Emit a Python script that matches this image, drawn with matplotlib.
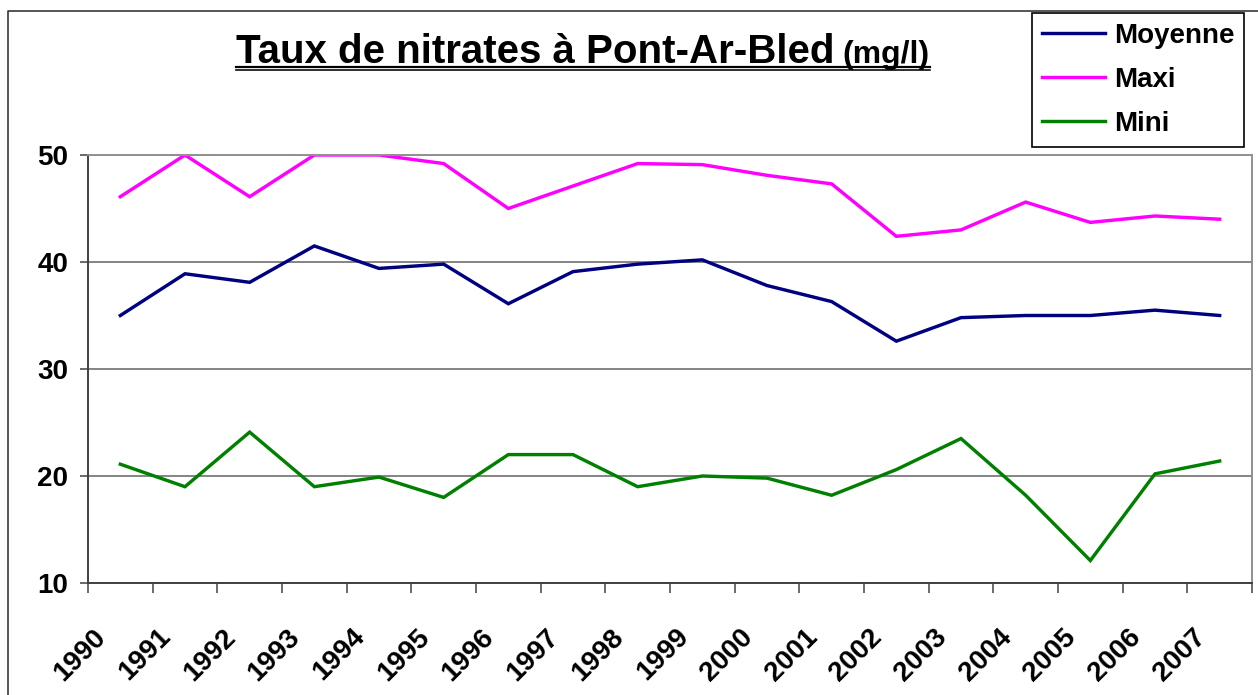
#!/usr/bin/env python3
import matplotlib
matplotlib.use("Agg")
import matplotlib.pyplot as plt
from matplotlib.lines import Line2D
from matplotlib.transforms import ScaledTranslation

years = [str(y) for y in range(1990, 2008)]
moyenne = [35.0, 38.9, 38.1, 41.5, 39.4, 39.8, 36.1, 39.1, 39.8, 40.2,
           37.8, 36.3, 32.6, 34.8, 35.0, 35.0, 35.5, 35.0]
maxi = [46.1, 50.0, 46.1, 50.0, 50.0, 49.2, 45.0, 47.1, 49.2, 49.1,
        48.1, 47.3, 42.4, 43.0, 45.6, 43.7, 44.3, 44.0]
mini = [21.1, 19.0, 24.1, 19.0, 19.9, 18.0, 22.0, 22.0, 19.0, 20.0,
        19.8, 18.2, 20.6, 23.5, 18.2, 12.1, 20.2, 21.4]
y_ticks = [10, 20, 30, 40, 50]

W, H = 1258, 695
DPI = 100


def px(v):
    # pixels -> points
    return v * 72.0 / DPI


plt.rcParams['font.family'] = ['Liberation Sans', 'DejaVu Sans']

fig = plt.figure(figsize=(W / DPI, H / DPI), dpi=DPI)

# plot area in pixels: x 88..1252, y 155..583
left, right, top, bottom = 88, 1252, 155, 583
ax = fig.add_axes([left / W, 1 - bottom / H, (right - left) / W, (bottom - top) / H])

x = list(range(len(years)))
lw = px(3.4)
ax.plot(x, moyenne, color='#000080', lw=lw, label='Moyenne', solid_joinstyle='miter')
ax.plot(x, maxi, color='#FF00FF', lw=lw, label='Maxi', solid_joinstyle='miter')
ax.plot(x, mini, color='#008000', lw=lw, label='Mini', solid_joinstyle='miter')

ax.set_xlim(-0.5, len(years) - 0.5)
ax.set_ylim(10, 50)
ax.set_yticks(y_ticks)
ax.set_yticklabels([str(v) for v in y_ticks], fontsize=20, fontweight='bold')
ax.yaxis.grid(True, color='#707070', lw=1.2)
ax.set_axisbelow(True)

# category boundaries as ticks, labels placed separately
ax.set_xticks([i - 0.5 for i in range(len(years) + 1)])
ax.set_xticklabels([])
ax.tick_params(axis='x', direction='out', length=px(10), width=1.2, color='#505050')
ax.tick_params(axis='y', direction='out', length=px(8), width=1.2, color='#505050', pad=px(12))

off = ScaledTranslation(-18 / DPI, -50 / DPI, fig.dpi_scale_trans)
for i, yr in enumerate(years):
    ax.text(i, 0, yr, transform=ax.get_xaxis_transform() + off, rotation=45,
            rotation_mode='anchor', ha='right', va='center',
            fontsize=20, fontweight='bold')

for s in ['left', 'bottom']:
    ax.spines[s].set_color('#404040')
    ax.spines[s].set_linewidth(1.4)
for s in ['top', 'right']:
    ax.spines[s].set_color('#909090')
    ax.spines[s].set_linewidth(1.4)

# legend box: x 1032..1244, y 13..145
leg = ax.legend(loc='upper right', bbox_to_anchor=(1244 / W, 1 - 13 / H),
                bbox_transform=fig.transFigure, borderaxespad=0,
                fancybox=False, edgecolor='black', framealpha=1,
                prop={'size': 20, 'weight': 'bold'}, handlelength=2.3,
                handletextpad=0.3, labelspacing=0.65, borderpad=0.35)
leg.get_frame().set_linewidth(1.2)

# title with smaller unit, double underline
renderer = fig.canvas.get_renderer()
t1 = fig.text(236 / W, 1 - 63 / H, "Taux de nitrates à Pont-Ar-Bled",
              fontsize=29, fontweight='bold', va='baseline')
bb = t1.get_window_extent(renderer)
t2 = fig.text((bb.x1 + 8) / W, 1 - 63 / H, "(mg/l)",
              fontsize=23, fontweight='bold', va='baseline')
bb2 = t2.get_window_extent(renderer)
for yy, w in [(66.5, 2.2), (70.3, 1.6)]:
    fig.add_artist(Line2D([236 / W, bb2.x1 / W], [1 - yy / H, 1 - yy / H],
                          transform=fig.transFigure, color='black', lw=px(w)))

# outer chart frame (only top and left visible)
fig.add_artist(Line2D([8 / W, 8 / W, 1.0], [0.0, 1 - 11 / H, 1 - 11 / H],
                      transform=fig.transFigure, color='#303030', lw=px(1.6)))

fig.savefig("out.png", dpi=DPI)
